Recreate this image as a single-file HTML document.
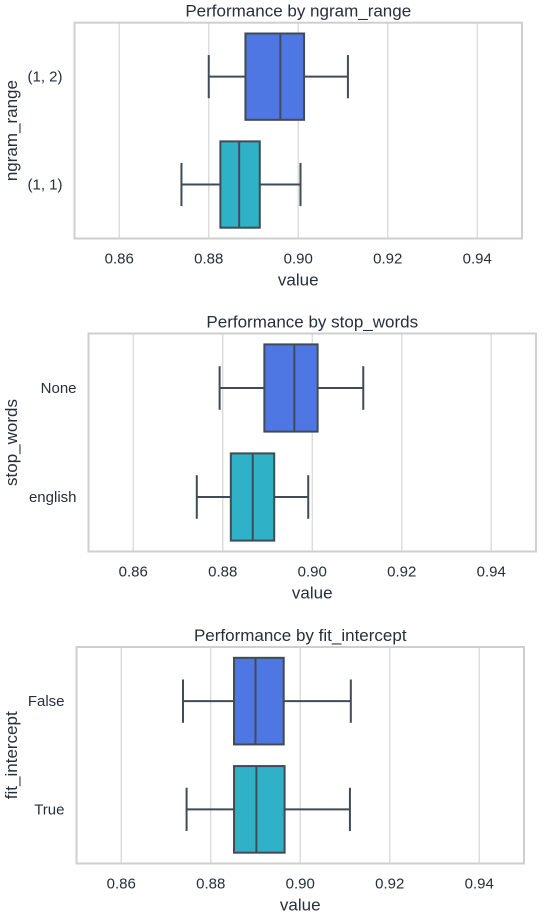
<!DOCTYPE html>
<html><head><meta charset="utf-8"><style>
html,body{margin:0;padding:0;background:#fff;}
svg{display:block;font-family:"Liberation Sans",Arial,sans-serif;}
</style></head><body>
<svg id="chart" width="544" height="917" viewBox="0 0 544 917"></svg>
<script>
// Plot 1 data
const p1Categories = ["(1, 2)", "(1, 1)"];
const p1WhiskerLow = [0.8800, 0.8739];
const p1Q1 = [0.8882, 0.8826];
const p1Median = [0.8960, 0.8868];
const p1Q3 = [0.9013, 0.8914];
const p1WhiskerHigh = [0.9111, 0.9005];
// Plot 2 data
const p2Categories = ["None", "english"];
const p2WhiskerLow = [0.8793, 0.8742];
const p2Q1 = [0.8893, 0.8818];
const p2Median = [0.8960, 0.8867];
const p2Q3 = [0.9012, 0.8915];
const p2WhiskerHigh = [0.9114, 0.8991];
// Plot 3 data
const p3Categories = ["False", "True"];
const p3WhiskerLow = [0.8738, 0.8746];
const p3Q1 = [0.8852, 0.8852];
const p3Median = [0.8900, 0.8902];
const p3Q3 = [0.8963, 0.8965];
const p3WhiskerHigh = [0.9113, 0.9111];
const xTicks = [0.86, 0.88, 0.90, 0.92, 0.94];
const xTickLabels = ["0.86", "0.88", "0.90", "0.92", "0.94"];
const xMin = 0.85, xMax = 0.95;

const NS = "http://www.w3.org/2000/svg";
const svg = document.getElementById("chart");
const colors = ["#4f77e3", "#2fb2c8"];
const edge = "#414b56";
const txt = "#262f3a";

function mk(tag, attrs, parent) {
  const e = document.createElementNS(NS, tag);
  for (const k in attrs) e.setAttribute(k, attrs[k]);
  (parent || svg).appendChild(e);
  return e;
}

function drawPlot(cfg, cats, lo, q1, med, q3, hi) {
  const g = mk("g", {});
  
  
  const x = v => cfg.left + (v - xMin) / (xMax - xMin) * (cfg.right - cfg.left);
  const band = (cfg.bottom - cfg.top) / cats.length;
  const yc = i => cfg.top + band * (i + 0.5);
  xTicks.forEach((t, i) => {
    const gl = mk("line", {x1: x(t), x2: x(t), y1: cfg.top, y2: cfg.bottom, stroke: "#d6d6d6", "stroke-width": 1.2}, g);
    
    
    const tl = mk("text", {x: x(t), y: cfg.bottom + 25, "text-anchor": "middle", "font-size": 15, fill: txt}, g);
    tl.textContent = xTickLabels[i];
    
    
  });
  const fr = mk("rect", {x: cfg.left, y: cfg.top, width: cfg.right - cfg.left, height: cfg.bottom - cfg.top, fill: "none", stroke: "#cfcfcf", "stroke-width": 2}, g);
  
  
  cats.forEach((c, i) => {
    const cy = yc(i), h = band * 0.8, bh = h / 2, cap = h / 4;
    const box = mk("g", {}, g);
    
    
    const ls = {stroke: edge, "stroke-width": 2};
    mk("line", Object.assign({x1: x(lo[i]), x2: x(q1[i]), y1: cy, y2: cy}, ls), box);
    mk("line", Object.assign({x1: x(q3[i]), x2: x(hi[i]), y1: cy, y2: cy}, ls), box);
    mk("line", Object.assign({x1: x(lo[i]), x2: x(lo[i]), y1: cy - cap, y2: cy + cap}, ls), box);
    mk("line", Object.assign({x1: x(hi[i]), x2: x(hi[i]), y1: cy - cap, y2: cy + cap}, ls), box);
    mk("rect", {x: x(q1[i]), y: cy - bh, width: x(q3[i]) - x(q1[i]), height: h, fill: colors[i], stroke: edge, "stroke-width": 2}, box);
    mk("line", Object.assign({x1: x(med[i]), x2: x(med[i]), y1: cy - bh, y2: cy + bh}, ls), box);
    const yl = mk("text", {x: cfg.left - 12, y: cy + 5, "text-anchor": "end", "font-size": 15, fill: txt}, g);
    yl.textContent = c;
    
    
  });
  const t = mk("text", {x: (cfg.left + cfg.right) / 2, y: cfg.top - 6, "text-anchor": "middle", "font-size": 17, fill: txt}, g);
  t.textContent = cfg.title;
  
  
  const xl = mk("text", {x: (cfg.left + cfg.right) / 2, y: cfg.bottom + 47, "text-anchor": "middle", "font-size": 17, fill: txt}, g);
  xl.textContent = "value";
  
  
  const ym = (cfg.top + cfg.bottom) / 2;
  const yt = mk("text", {x: 17, y: ym, "text-anchor": "middle", "font-size": 17, fill: txt, transform: "rotate(-90 17 " + ym + ")"}, g);
  yt.textContent = cfg.ylabel;
  
  
}

drawPlot({name: "ngram-range-plot", title: "Performance by ngram_range", ylabel: "ngram_range", left: 74.5, right: 522, top: 22.7, bottom: 238.5},
  p1Categories, p1WhiskerLow, p1Q1, p1Median, p1Q3, p1WhiskerHigh);
drawPlot({name: "stop-words-plot", title: "Performance by stop_words", ylabel: "stop_words", left: 88.5, right: 536, top: 333.5, bottom: 551.5},
  p2Categories, p2WhiskerLow, p2Q1, p2Median, p2Q3, p2WhiskerHigh);
drawPlot({name: "fit-intercept-plot", title: "Performance by fit_intercept", ylabel: "fit_intercept", left: 76.5, right: 524, top: 647, bottom: 863.5},
  p3Categories, p3WhiskerLow, p3Q1, p3Median, p3Q3, p3WhiskerHigh);
</script>
</body></html>
